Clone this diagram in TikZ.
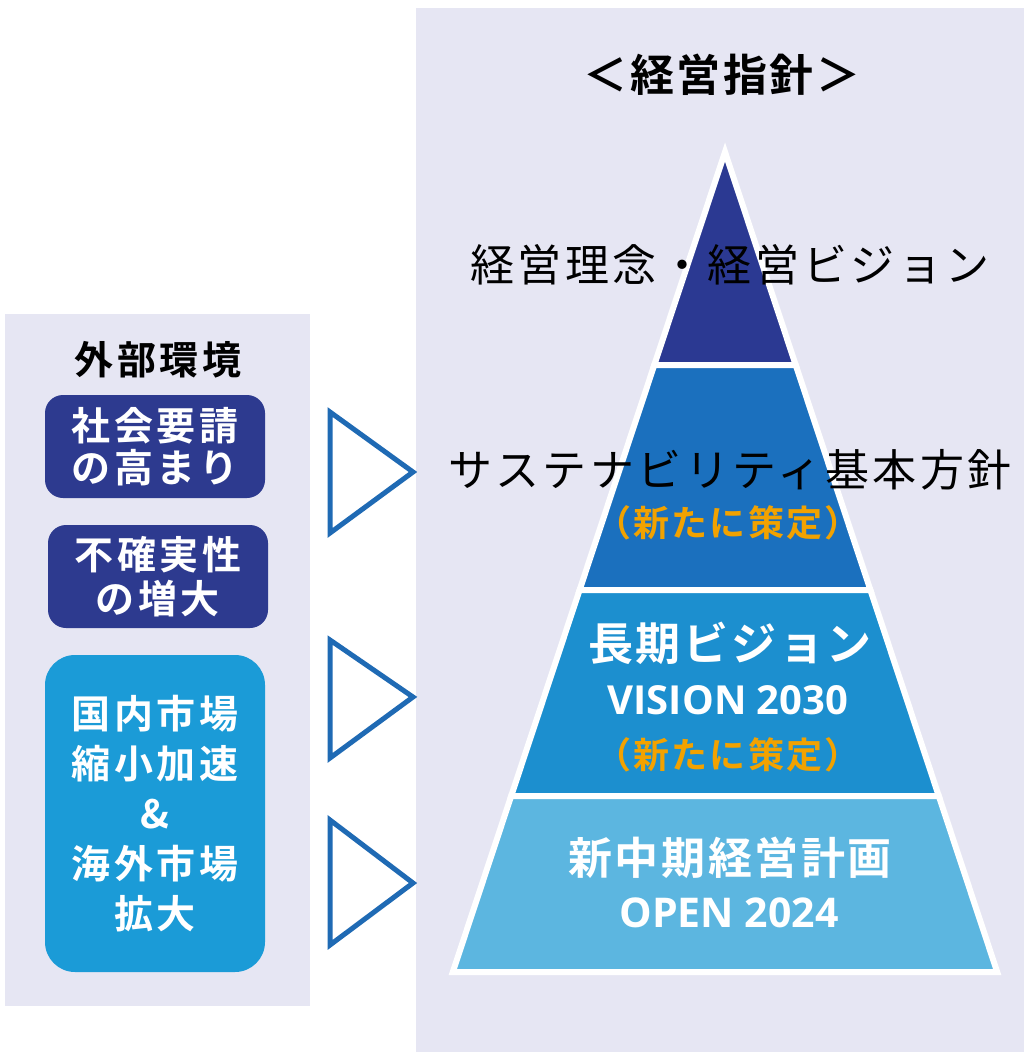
\documentclass[tikz,border=0pt]{standalone}
\usepackage{fontspec}
\newfontfamily\jp{Noto Sans CJK JP}
\newfontfamily\jpsp[LetterSpace=8]{Noto Sans CJK JP}
\newfontfamily\jpb[LetterSpace=6]{Noto Sans CJK JP Bold}
\newfontfamily\jpbl[LetterSpace=9]{Noto Sans CJK JP Bold}
\newfontfamily\lat{Open Sans}
\definecolor{panel}{HTML}{E6E6F3}
\definecolor{navy}{HTML}{2D3A8F}
\definecolor{tierA}{HTML}{2B3992}
\definecolor{tierB}{HTML}{1B70BE}
\definecolor{tierC}{HTML}{1C8FCF}
\definecolor{tierD}{HTML}{5CB6E0}
\definecolor{boxblue}{HTML}{1B9BD7}
\definecolor{orng}{HTML}{F2A200}
\definecolor{tri}{HTML}{1F6AB4}
\tikzset{
  tier/.style={draw=white, line width=6pt, line join=miter},
  lbox/.style={rounded corners=18pt, minimum width=220pt, inner sep=0pt, text=white, align=center},
  tribox/.style={draw=tri, line width=5pt, line join=miter},
  wtxt/.style={text=white, inner sep=0pt},
}
\begin{document}
\begin{tikzpicture}[x=1pt,y=-1pt]
\fill[white] (0,0) rectangle (1032,1052);
\useasboundingbox (0,0) rectangle (1032,1052);
% panels
\fill[panel] (5,314) rectangle (310,1006);
\fill[panel] (416,8) rectangle (1024,1052);
% title
\node[inner sep=0pt, font=\fontsize{44}{50}\selectfont\jpb] (title) at (722,75) {＜経営指針＞};
% pyramid
\path[tier, fill=tierA] (725,152) -- (795.7,365) -- (654.3,365) -- cycle;
\path[tier, fill=tierB] (654.3,365) -- (795.7,365) -- (870.4,590) -- (579.6,590) -- cycle;
\path[tier, fill=tierC] (579.6,590) -- (870.4,590) -- (938.8,796) -- (511.2,796) -- cycle;
\path[tier, fill=tierD] (511.2,796) -- (938.8,796) -- (997.2,972) -- (452.8,972) -- cycle;
% tier texts
\node[inner sep=0pt, font=\fontsize{44}{50}\selectfont\jpsp] (t1) at (730,265) {経営理念・経営ビジョン};
\node[inner sep=0pt, font=\fontsize{44}{50}\selectfont\jpsp] (t2) at (730,470) {サステナビリティ基本方針};
\node[inner sep=0pt, text=orng, font=\fontsize{36}{42}\selectfont\jpb] (t2b) at (728,523) {（新たに策定）};
\node[wtxt, font=\fontsize{45}{50}\selectfont\jpb] (t3) at (730,643) {長期ビジョン};
\node[wtxt, font=\fontsize{40}{46}\selectfont\lat\bfseries] (t3b) at (728,700) {VISION 2030};
\node[inner sep=0pt, text=orng, font=\fontsize{36}{42}\selectfont\jpb] (t3c) at (728,755) {（新たに策定）};
\node[wtxt, font=\fontsize{44}{50}\selectfont\jpb] (t4) at (730,858) {新中期経営計画};
\node[wtxt, font=\fontsize{41}{46}\selectfont\lat\bfseries] (t4b) at (729,913) {OPEN 2024};
% left side
\node[inner sep=0pt, font=\fontsize{39}{44}\selectfont\jpbl] (env) at (158,360) {外部環境};
\node[lbox, fill=navy, minimum height=103pt, font=\fontsize{39}{42}\selectfont\jpbl] (b1) at (155,446.5)
  {社会要請\\の高まり};
\node[lbox, fill=navy, minimum height=103pt, font=\fontsize{39}{44}\selectfont\jpbl] (b2) at (158,576.5)
  {不確実性\\の増大};
\node[lbox, fill=boxblue, minimum height=317pt, rounded corners=30pt, font=\fontsize{39}{50}\selectfont\jpbl] (b3) at (155,813.5)
  {国内市場\\縮小加速\\\&\\海外市場\\拡大};
% triangles
\coordinate (p1a) at (330,412); \coordinate (p1b) at (413,472); \coordinate (p1c) at (330,533);
\coordinate (p2a) at (330,640); \coordinate (p2b) at (413,697); \coordinate (p2c) at (330,758);
\coordinate (p3a) at (330,820); \coordinate (p3b) at (413,883); \coordinate (p3c) at (330,945);
\draw[tribox] (p1a) -- (p1b) -- (p1c) -- cycle;
\draw[tribox] (p2a) -- (p2b) -- (p2c) -- cycle;
\draw[tribox] (p3a) -- (p3b) -- (p3c) -- cycle;
\end{tikzpicture}
\end{document}
